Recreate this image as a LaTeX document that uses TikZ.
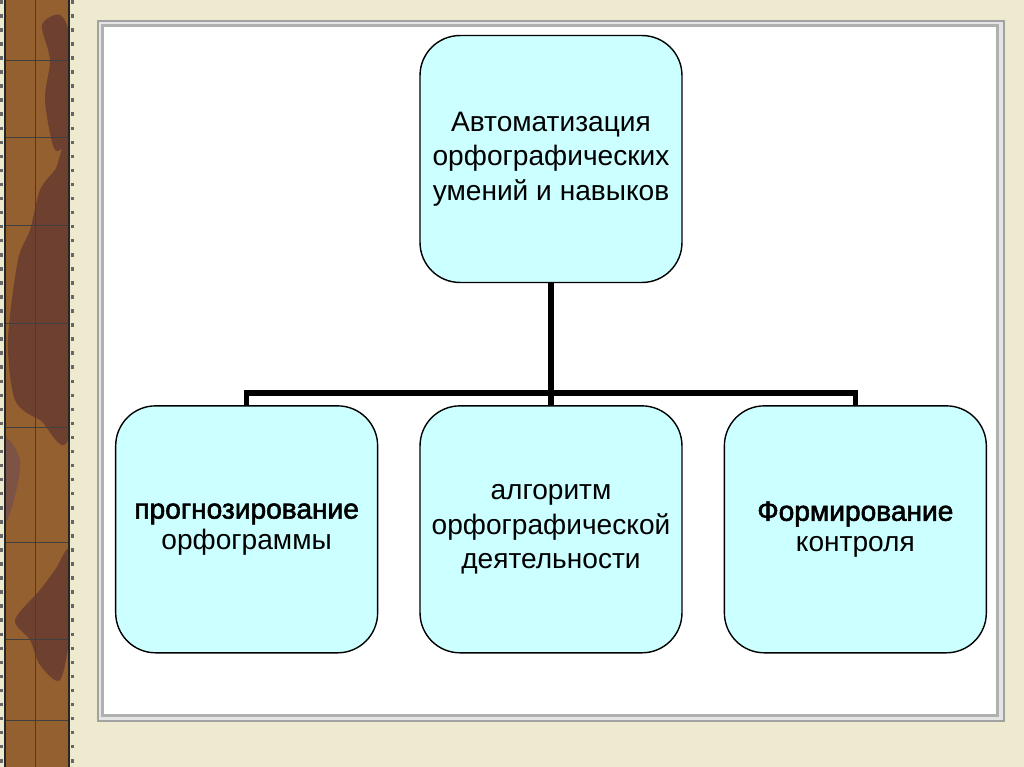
\documentclass[tikz,border=0pt]{standalone}
\usepackage{fontspec}
\setmainfont{Liberation Sans}
\newfontfamily\heavyfont[FakeBold=2]{Liberation Sans}
\definecolor{boxcyan}{HTML}{CCFFFF}
\definecolor{paper}{HTML}{EEEACF}
\definecolor{strip}{HTML}{946030}
\definecolor{stripdark}{HTML}{6E4030}
\definecolor{framegray}{HTML}{A2A2A2}
\usetikzlibrary{positioning, backgrounds}

\tikzset{
  skill/.style={draw=black, line width=0.8pt, fill=boxcyan,
    rounded corners=0.8cm, minimum width=5.24cm, minimum height=4.94cm,
    align=center,
    font=\fontsize{16}{19.5}\selectfont},
  branch/.style={draw=black, line width=3.2pt}
}

\begin{document}
\begin{tikzpicture}[x=0.02cm, y=-0.02cm]
  % paper
  \fill[paper] (0,0) rectangle (1024,767);
  \useasboundingbox (0,0) rectangle (1024,767);

  % left strip
  \begin{scope}
    \clip (4,0) rectangle (69,767);
    \fill[strip] (4,0) rectangle (69,767);
    \fill[stripdark] plot[smooth cycle] coordinates
      {(42,25) (60,15) (70,40) (70,130) (55,150) (45,100) (50,60)};
    \fill[stripdark] plot[smooth cycle] coordinates
      {(18,260) (30,230) (40,190) (55,170) (70,150) (70,430) (40,420)
       (15,400) (8,340)};
    \fill[stripdark] plot[smooth cycle] coordinates
      {(15,620) (40,590) (55,570) (70,550) (70,630) (60,680) (40,665)
       (30,640)};
    \fill[stripdark!90] plot[smooth cycle] coordinates
      {(4,440) (20,460) (14,500) (4,520)};
  \end{scope}
  \draw[black!75, line width=0.5pt] (35,0) -- (35,767);
  \foreach \y in {60,137,225,323,427,542,639,720} {
    \draw[black!75, line width=0.5pt] (4,\y) -- (69,\y);
  }
  \draw[black!85, line width=1pt] (5,0) -- (5,767) (69,0) -- (69,767);
  \draw[black!60, line width=2pt, dash pattern=on 2pt off 6pt]
    (1.5,0) -- (1.5,767) (72.5,0) -- (72.5,767);

  % frame
  \fill[framegray] (97,20) rectangle (1005,722);
  \fill[gray!20] (99,22) rectangle (1003,720);
  \fill[framegray!85] (101,24) rectangle (999,717);
  \fill[white] (104,27) rectangle (996,714);

  % boxes
  \node[skill] (auto) at (551,159) {Автоматизация\\орфографических\\умений и навыков};
  \node[skill, below=2.44cm of auto] (algo) {алгоритм\\орфографической\\деятельности};
  \node[skill, left=0.82cm of algo] (prog) {{\heavyfont прогнозирование}\\[-2pt]орфограммы};
  \node[skill, right=0.82cm of algo] (form) {{\heavyfont Формирование}\\[-2pt]контроля};

  % tree
  \coordinate (fork) at (551,393);
  \draw[branch] (auto.south) -- (fork);
  \draw[branch] (prog.north) -- (prog.north |- fork) -- (form.north |- fork) -- (form.north);
  \draw[branch] (fork) -- (algo.north);
\end{tikzpicture}
\end{document}
